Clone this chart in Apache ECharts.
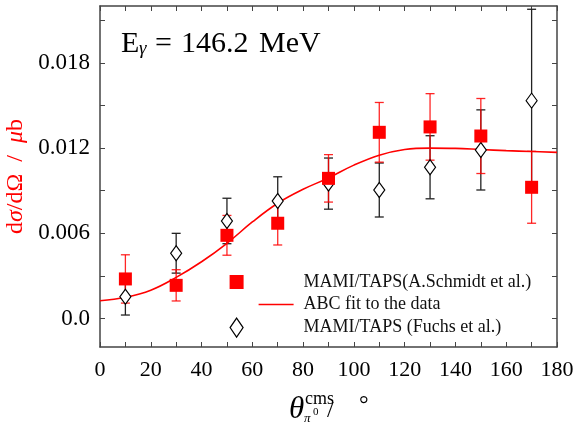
<!DOCTYPE html>
<html>
<head>
<meta charset="utf-8">
<script src="https://cdn.jsdelivr.net/npm/echarts@6/dist/echarts.min.js"></script>
<style>html,body{margin:0;padding:0;background:#fff}#c{width:576px;height:427px}</style>
</head>
<body>
<div id="c"></div>
<script>
// ---- data ----
var angles = [10, 30, 50, 70, 90, 110, 130, 150, 170];
var schmidtY = [0.00279, 0.00234, 0.00586, 0.00671, 0.00987, 0.01311, 0.01349, 0.01285, 0.00924];
var schmidtErr = [0.00170, 0.00110, 0.00140, 0.00153, 0.00167, 0.00210, 0.00234, 0.00264, 0.00253];
var fuchsY = [0.00154, 0.00460, 0.00687, 0.00828, 0.00950, 0.00905, 0.01065, 0.01187, 0.01534];
var fuchsErr = [0.00129, 0.00140, 0.00160, 0.00170, 0.00180, 0.00190, 0.00222, 0.00282, 0.00643];
var fitAngles = [0, 10, 20, 30, 40, 50, 60, 70, 80, 90, 100, 110, 120, 130, 140, 150, 160, 170, 180];
var fitY = [0.00126, 0.00150, 0.00200, 0.00290, 0.00400, 0.00530, 0.00680, 0.00812, 0.00910, 0.00990, 0.01080, 0.01150, 0.01190, 0.01200, 0.01198, 0.01190, 0.01182, 0.01176, 0.01170];
var yLabelValues = [0, 0.006, 0.012, 0.018];
var yTickValues = [0, 0.003, 0.006, 0.009, 0.012, 0.015, 0.018, 0.021];
var xLabelValues = [0, 20, 40, 60, 80, 100, 120, 140, 160, 180];
var xTickValues = [0, 10, 20, 30, 40, 50, 60, 70, 80, 90, 100, 110, 120, 130, 140, 150, 160, 170, 180];
var nameSchmidt = 'MAMI/TAPS(A.Schmidt et al.)';
var nameFit = 'ABC fit to the data';
var nameFuchs = 'MAMI/TAPS (Fuchs et al.)';

var SERIF = '"Liberation Serif", "Times New Roman", serif';

function zip(xs, ys) { return xs.map(function (x, i) { return [x, ys[i]]; }); }
function errData(xs, ys, es) { return xs.map(function (x, i) { return [x, ys[i] - es[i], ys[i] + es[i]]; }); }

function errRender(color, capW, lw) {
  return function (params, api) {
    var x = api.value(0), lo = api.value(1), hi = api.value(2);
    var p1 = api.coord([x, hi]), p2 = api.coord([x, lo]);
    var h = capW / 2;
    var st = { stroke: color, lineWidth: lw };
    return { type: 'group', children: [
      { type: 'line', shape: { x1: p1[0], y1: p1[1], x2: p2[0], y2: p2[1] }, style: st },
      { type: 'line', shape: { x1: p1[0] - h, y1: p1[1], x2: p1[0] + h, y2: p1[1] }, style: st },
      { type: 'line', shape: { x1: p2[0] - h, y1: p2[1], x2: p2[0] + h, y2: p2[1] }, style: st }
    ]};
  };
}

var axisLineStyle = { color: '#444', width: 1.5 };
var tickStyle = { color: '#444', width: 1 };

function xAx(pos, labels) {
  return {
    type: 'value', position: pos, min: 0, max: 180, interval: 20,
    axisLine: { show: true, onZero: false, lineStyle: axisLineStyle },
    axisTick: { show: true, inside: true, length: 5, lineStyle: tickStyle, customValues: xTickValues },
    axisLabel: { show: labels, customValues: xLabelValues, fontFamily: SERIF, fontSize: 22, color: '#000', margin: 12 },
    splitLine: { show: false }
  };
}
function yAx(pos, labels) {
  var a = {
    type: 'value', position: pos, min: -0.002, max: 0.022,
    axisLine: { show: true, onZero: false, lineStyle: axisLineStyle },
    axisTick: { show: true, inside: true, length: 5, lineStyle: tickStyle, customValues: yTickValues },
    axisLabel: { show: labels, customValues: yLabelValues, fontFamily: SERIF, fontSize: 23, color: '#000', margin: 10,
      formatter: function (v) { return Math.abs(v) < 1e-9 ? '0.0' : v.toFixed(3); } },
    splitLine: { show: false }
  };
  if (labels) {
    a.name = '{r|d}{i|σ}{r|/dΩ  /  }{i|μ}{r|b}';
    a.nameLocation = 'middle';
    a.nameRotate = 90;
    a.nameGap = 71;
    a.nameTextStyle = { color: '#f00', rich: {
      r: { fontFamily: SERIF, fontSize: 24, color: '#f00' },
      i: { fontFamily: SERIF, fontSize: 24, fontStyle: 'italic', color: '#f00' }
    }};
  }
  return a;
}

// baseline -> middle conversion for Liberation Serif
function txt(str, left, baseline, fs, italic, color) {
  return { type: 'text', left: left, top: baseline - 0.3375 * fs - fs / 2,
    style: { text: str, fontFamily: SERIF, fontSize: fs, fontStyle: italic ? 'italic' : 'normal', fill: color || '#000' } };
}

var option = {
  backgroundColor: '#fff',
  animation: false,
  grid: { left: 100, right: 19, top: 6, bottom: 80, containLabel: false, outerBoundsMode: 'none' },
  xAxis: [xAx('bottom', true), xAx('top', false)],
  yAxis: [yAx('left', true), yAx('right', false)],
  legend: {
    orient: 'vertical', left: 229, top: 272, padding: 0, itemWidth: 69, itemHeight: 20, itemGap: 2.5,
    textStyle: { fontFamily: SERIF, fontSize: 18, color: '#111' },
    data: [
      { name: nameSchmidt, icon: 'path://M0,3h14v14h-14z M0,0 M69,20', itemStyle: { color: '#f00', borderWidth: 0, opacity: 1 } },
      { name: nameFit, icon: 'path://M29,9.25h35v1.5h-35z M0,0 M69,20', itemStyle: { color: '#f00', borderWidth: 0, opacity: 1 } },
      { name: nameFuchs, icon: 'path://M7,0.5L13.5,10L7,19.5L0.5,10z M0,0 M69,20', itemStyle: { color: '#fff', borderColor: '#000', borderWidth: 1.2, opacity: 1 } }
    ]
  },
  graphic: [
    txt('E', 121, 54, 30, false),
    txt('γ', 139, 55, 19, true),
    txt('=', 155, 54, 30, false),
    txt('146.2', 181, 54, 30, false),
    txt('MeV', 259, 54, 30, false),
    txt('θ', 289, 420, 31, true),
    txt('cms', 305, 405, 18, false),
    txt('π', 304, 423, 13, true),
    txt('0', 313, 416, 11, false),
    txt('/', 327, 419, 24, false),
    txt('°', 359, 414, 24, false)
  ],
  series: [
    { name: 'fuchsErr', type: 'custom', renderItem: errRender('#222', 9, 1.3), data: errData(angles, fuchsY, fuchsErr), z: 2, silent: true },
    { name: 'schmidtErr', type: 'custom', renderItem: errRender('rgba(255,0,0,0.85)', 9, 1.3), data: errData(angles, schmidtY, schmidtErr), z: 3, silent: true },
    { name: nameFit, type: 'line', data: zip(fitAngles, fitY), smooth: 0.4, showSymbol: false, symbol: 'none',
      lineStyle: { color: '#f00', width: 1.6 }, itemStyle: { color: '#f00' }, z: 4 },
    { name: nameFuchs, type: 'scatter', data: zip(angles, fuchsY), symbol: 'diamond', symbolSize: [11, 15],
      itemStyle: { color: '#fff', borderColor: '#000', borderWidth: 1.2, opacity: 1 }, z: 5 },
    { name: nameSchmidt, type: 'scatter', data: zip(angles, schmidtY), symbol: 'rect', symbolSize: 13,
      itemStyle: { color: '#f00', opacity: 1 }, z: 6 }
  ]
};

var chart = echarts.init(document.getElementById('c'), null, { renderer: 'canvas' });
chart.setOption(option);
</script>
</body>
</html>
